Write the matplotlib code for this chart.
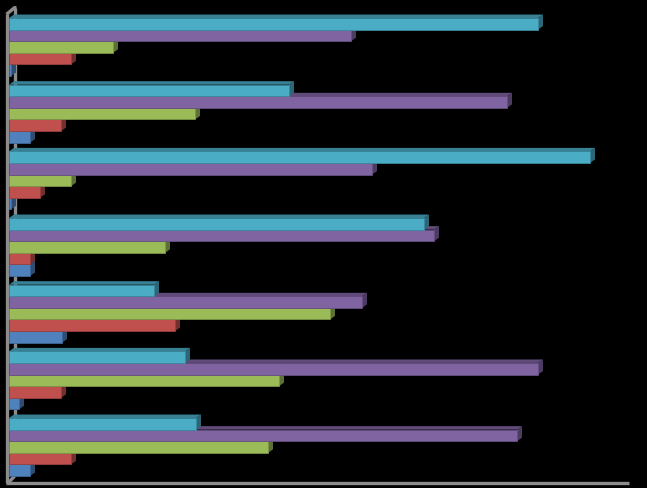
import numpy as np
import matplotlib.pyplot as plt
from matplotlib.patches import Polygon
from matplotlib.colors import to_rgb

# groups listed bottom -> top
groups = ["G1", "G2", "G3", "G4", "G5", "G6", "G7"]
series = ["Series 1", "Series 2", "Series 3", "Series 4", "Series 5"]
colors = ["#4f81bd", "#c0504d", "#9bbb59", "#8064a2", "#4bacc6"]

s1 = [2.1, 1.0, 5.3, 2.1, 0.2, 2.1, 0.2]
s2 = [6.2, 5.2, 16.6, 2.1, 3.1, 5.2, 6.2]
s3 = [25.9, 27.0, 32.1, 15.6, 6.2, 18.6, 10.4]
s4 = [50.8, 52.9, 35.3, 42.5, 36.3, 49.8, 34.2]
s5 = [18.7, 17.6, 14.5, 41.5, 58.1, 28.0, 52.9]

BAR_H = 0.174
DX, DY = 0.5, 0.052


def shade(color, f):
    r, g, b = to_rgb(color)
    return (r * f, g * f, b * f)


def bar3d(ax, y, w, color, z):
    y0, y1 = y - BAR_H / 2, y + BAR_H / 2
    side = Polygon([(w, y0), (w + DX, y0 + DY), (w + DX, y1 + DY), (w, y1)],
                   closed=True, facecolor=shade(color, 0.6), edgecolor="none", zorder=z)
    top = Polygon([(0, y1), (DX, y1 + DY), (w + DX, y1 + DY), (w, y1)],
                  closed=True, facecolor=shade(color, 0.75), edgecolor="none", zorder=z)
    ax.add_patch(side)
    ax.add_patch(top)
    ax.barh(y, w, height=BAR_H, color=color, edgecolor=shade(color, 0.8),
            linewidth=0.6, zorder=z + 0.5)


def main() -> None:
    fig = plt.figure(figsize=(6.47, 4.88), dpi=100, facecolor="black")
    ax = fig.add_axes([0, 0, 1, 1])
    ax.set_facecolor("black")
    ax.set_xlim(-0.9, 63.8)
    ax.set_ylim(-0.615, 6.705)
    ax.axis("off")

    # walls / floor
    wall = dict(color="#8c8c8c", linewidth=2.4, solid_capstyle="butt", zorder=1)
    ax.plot([-0.25, -0.25], [-0.54, 6.49], **wall)
    ax.plot([0.55, 0.55], [-0.44, 6.59], **wall)
    ax.plot([-0.25, 0.55, 0.75], [6.49, 6.59, 6.59], **wall)
    ax.plot([-0.3, 62.0], [-0.54, -0.54], **wall)
    ax.plot([-0.1, 0.55], [-0.54, -0.44], **wall)

    data = [s1, s2, s3, s4, s5]
    y = np.arange(len(groups))
    z = 2
    for gi in range(len(groups)):
        for si, (vals, col) in enumerate(zip(data, colors)):
            bar3d(ax, y[gi] + (si - 2) * BAR_H, vals[gi], col, z)
            z += 1

    fig.savefig("out.png", dpi=100, facecolor="black")


if __name__ == "__main__":
    main()
